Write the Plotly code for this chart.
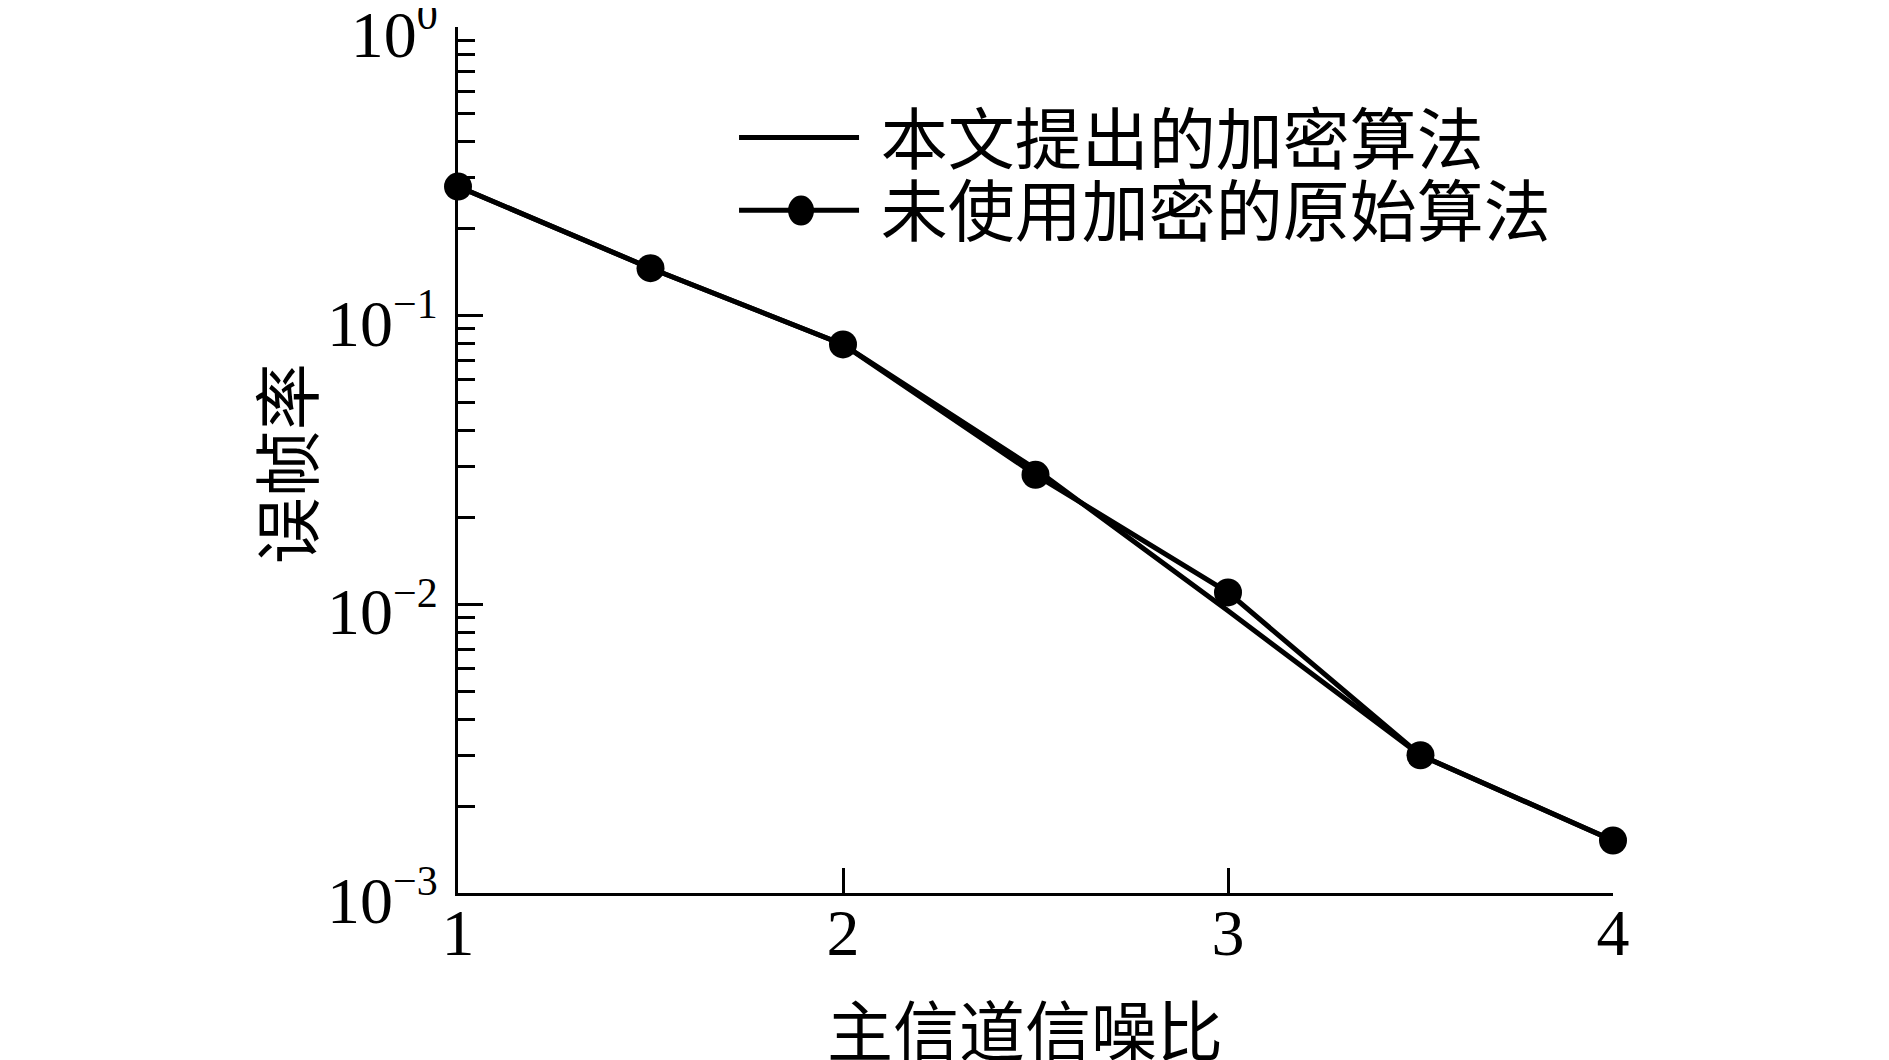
import plotly.graph_objects as go

snr = [1, 1.5, 2, 2.5, 3, 3.5, 4]
fer_proposed = [0.28, 0.146, 0.0795, 0.0294, 0.0095, 0.0030, 0.00152]
fer_original = [0.28, 0.146, 0.0795, 0.0281, 0.0110, 0.0030, 0.00152]
name_proposed = "\u2005本文提出的加密算法"
name_original = "\u2005未使用加密的原始算法"
x_title = "主信道信噪比"
y_title = "误帧率"
x_ticks = [1, 2, 3, 4]
y_tickvals = [1e-3, 1e-2, 1e-1, 1]
y_exponents = ["−3", "−2", "−1", "0"]

serif = "Liberation Serif, Noto Sans CJK SC"
cjk = "Noto Sans CJK SC, Liberation Serif"

y_ticktext = ["10<sup><span style='font-size:42px'>" + e + "</span></sup>" for e in y_exponents]

fig = go.Figure()
fig.add_trace(go.Scatter(x=snr, y=fer_proposed, mode="lines", name=name_proposed,
                         line=dict(color="black", width=5), cliponaxis=False,
                         legend="legend"))
fig.add_trace(go.Scatter(x=snr, y=fer_original, mode="lines+markers", name=name_original,
                         line=dict(color="black", width=5),
                         marker=dict(color="black", size=28), cliponaxis=False,
                         legend="legend2"))

leg_common = dict(xanchor="left", yanchor="middle",
                  font=dict(family=cjk, size=67, color="black"),
                  bgcolor="rgba(0,0,0,0)", itemwidth=120)

# larger legend symbol for the marker series (legend caps marker size)
fig.add_shape(type="circle", xref="paper", yref="paper",
              xsizemode="pixel", ysizemode="pixel",
              xanchor=0.297, yanchor=0.788, x0=-13, x1=13, y0=-15, y1=15,
              fillcolor="black", line=dict(color="black", width=0))

fig.add_annotation(text=y_title, xref="paper", yref="paper", x=-0.1515, y=0.495,
                   xanchor="center", yanchor="middle", textangle=-90, showarrow=False,
                   font=dict(family=cjk, size=67, color="black"))
fig.add_annotation(text=x_title, xref="paper", yref="paper", x=0.491, y=-0.155,
                   xanchor="center", yanchor="middle", showarrow=False,
                   font=dict(family=cjk, size=66, color="black"))

fig.update_layout(
    width=1889, height=1060,
    margin=dict(l=450, r=284, t=19, b=175, autoexpand=False),
    paper_bgcolor="white", plot_bgcolor="white",
    font=dict(family=serif, size=66, color="black"),
    showlegend=True,
    legend=dict(x=0.239, y=0.872, **leg_common),
    legend2=dict(x=0.239, y=0.788, **leg_common),
    xaxis=dict(range=[1, 4], tickvals=x_ticks, ticks="inside", ticklen=25, tickwidth=3,
               tickcolor="black", showline=True, linecolor="black", linewidth=3,
               showgrid=False, zeroline=False, automargin=False,
               ticklabeloverflow="allow", ticklabelstandoff=-20,
               tickfont=dict(family=serif, size=66)),
    yaxis=dict(type="log", range=[-3, 0], tickvals=y_tickvals, ticktext=y_ticktext,
               ticks="inside", ticklen=25, tickwidth=3, tickcolor="black",
               showline=True, linecolor="black", linewidth=3,
               showgrid=False, zeroline=False, automargin=False,
               ticklabeloverflow="allow", ticklabelshift=7, ticklabelstandoff=4,
               tickfont=dict(family=serif, size=66),
               minor=dict(ticks="inside", ticklen=17, tickwidth=3, tickcolor="black",
                          dtick="D1", showgrid=False)),
)

fig.write_html("out.html")
